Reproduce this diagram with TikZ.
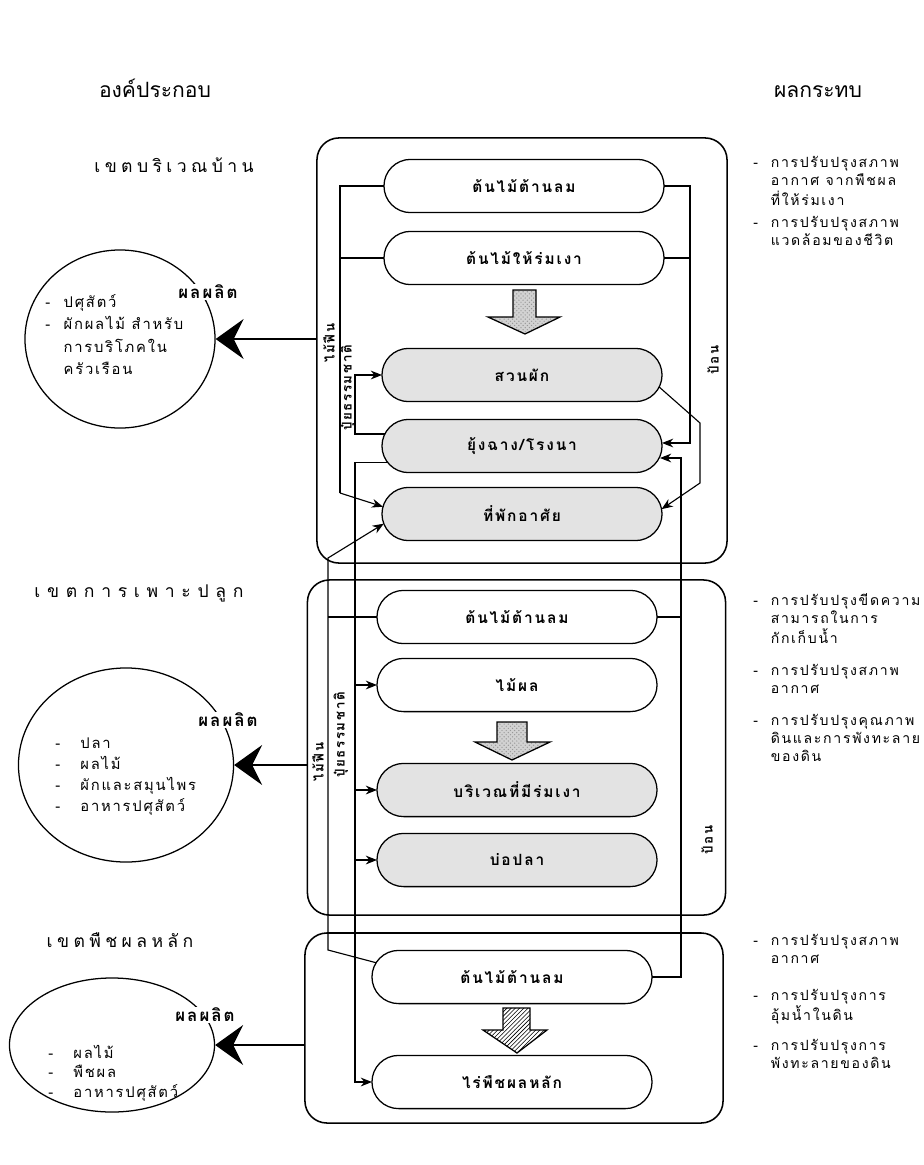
\documentclass[tikz,border=0pt]{standalone}
\usepackage{fontspec}
\newfontfamily\thai[Script=Thai]{Loma}
\newfontfamily\thaisp[Script=Thai,LetterSpace=12]{Loma}
\newfontfamily\thaihd[Script=Thai,LetterSpace=25]{Loma}
\newfontfamily\thaihdw[Script=Thai,LetterSpace=38]{Loma}
\usetikzlibrary{shapes.misc,shapes.geometric,arrows.meta,patterns,calc}
\begin{document}
\begin{tikzpicture}[x=0.025cm,y=-0.025cm,
  zone/.style={draw,line width=1.1pt,rounded corners=0.55cm,inner sep=0pt,outer sep=0pt},
  pill/.style={draw,line width=0.9pt,rounded rectangle,minimum width=7cm,minimum height=1.33cm,
    inner sep=0pt,outer sep=0pt,font=\thaisp\bfseries\fontsize{11}{13}\selectfont},
  shaded/.style={fill=gray!22},
  link/.style={line width=0.8pt},
  arr/.style={link,-{Stealth[length=2.8mm,width=2.2mm]}},
  bigarr/.style={line width=1pt,-{Stealth[length=7mm,width=10mm,inset=2.5mm]}},
  flow/.style={draw,line width=0.9pt,preaction={fill=gray!35},pattern=crosshatch dots,pattern color=gray!80},
  hatchflow/.style={draw,line width=0.9pt,pattern=north east lines},
  prod/.style={ellipse,draw,line width=0.9pt,inner sep=0pt},
  plabel/.style={fill=white,inner sep=1pt,font=\thaisp\bfseries\fontsize{12}{14}\selectfont},
  ctext/.style={anchor=base west,inner sep=0pt,align=left,font=\thaisp\fontsize{10.5}{16}\selectfont},
  side/.style={anchor=base west,inner sep=0pt,font=\thaisp\fontsize{10}{13}\selectfont},
  headbig/.style={font=\thai\fontsize{15}{18}\selectfont},
  head/.style={font=\thaihd\fontsize{12.5}{15}\selectfont},
  vlab/.style={rotate=90,inner sep=0pt,font=\thaisp\bfseries\fontsize{9.5}{11}\selectfont}]
\path[use as bounding box,fill=white] (0,0) rectangle (924,1165);

% headings
\node[headbig] (hc) at (155,88) {องค์ประกอบ};
\node[headbig] (hi) at (818,92) {ผลกระทบ};
\node[head] (h1) at (174,165) {เขตบริเวณบ้าน};
\node[head,font=\thaihdw\fontsize{12.5}{15}\selectfont] (h2) at (139,593) {เขตการเพาะปลูก};
\node[head] (h3) at (120,940) {เขตพืชผลหลัก};

% zone boxes
\node[zone,minimum width=10.25cm,minimum height=10.625cm] (z1) at (522,350.5) {};
\node[zone,minimum width=10.45cm,minimum height=8.375cm] (z2) at (516.5,747.5) {};
\node[zone,minimum width=10.45cm,minimum height=4.75cm] (z3) at (514,1028) {};

% pills
\node[pill] (wb1) at (524,186) {ต้นไม้ต้านลม};
\node[pill] (sh1) at (524,258) {ต้นไม้ให้ร่มเงา};
\node[pill,shaded] (veg1) at (522,375) {สวนผัก};
\node[pill,shaded] (barn1) at (522,446) {ยุ้งฉาง/โรงนา};
\node[pill,shaded] (home1) at (522,514) {ที่พักอาศัย};
\node[pill] (wb2) at (517,617) {ต้นไม้ต้านลม};
\node[pill] (fr2) at (517,685) {ไม้ผล};
\node[pill,shaded] (sd2) at (517,790) {บริเวณที่มีร่มเงา};
\node[pill,shaded] (pond2) at (517,860) {บ่อปลา};
\node[pill] (wb3) at (512,977) {ต้นไม้ต้านลม};
\node[pill] (crop3) at (512,1082) {ไร่พืชผลหลัก};

% big flow arrows
\path[flow] (513,290) -- (536,290) -- (536,317) -- (560,317) -- (525,334) -- (488,317) -- (513,317) -- cycle;
\path[flow] (497,722) -- (527,722) -- (527,742) -- (550,742) -- (512,760) -- (475,742) -- (497,742) -- cycle;
\path[hatchflow] (503,1008) -- (530,1008) -- (530,1030) -- (547,1030) -- (517,1053) -- (483,1030) -- (503,1030) -- cycle;

% firewood (upper)
\coordinate (fa) at (340,186);
\coordinate (fb) at (340,493);
\draw[link] (wb1.west) -- (fa) -- (fb);
\draw[link] (sh1.west) -- (sh1.west -| fa);
\draw[arr] (fb) -- (home1.177);
% firewood (lower)
\coordinate (g1) at (328,950);
\coordinate (g2) at (328,558);
\draw[arr] (wb3.174) -- (g1) -- (g2) -- (home1.184);
\draw[link] (wb2.west) -- (wb2.west -| g1);

% natural fertiliser
\coordinate (px) at (355,0);
\draw[arr] (barn1.175) -- (barn1.175 -| px) |- (veg1.west);
\draw[arr] (barn1.187) -- (barn1.187 -| px) |- (crop3.west);
\draw[arr] (px |- fr2.west) -- (fr2.west);
\draw[arr] (px |- sd2.west) -- (sd2.west);
\draw[arr] (px |- pond2.west) -- (pond2.west);

% feed
\coordinate (q) at (690,0);
\draw[arr] (wb1.east) -- (wb1.east -| q) |- ($(barn1.east)+(0,-3)$);
\draw[link] (sh1.east) -- (sh1.east -| q);
\coordinate (r) at (681,0);
\draw[arr] (wb3.east) -- (wb3.east -| r) |- ($(barn1.east)+(-2,12)$);
\draw[link] (wb2.east) -- (wb2.east -| r);
% garden to dwelling
\coordinate (v1) at (700,423);
\coordinate (v2) at (700,483);
\draw[arr] (veg1.355) -- (v1) -- (v2) -- (home1.2);

% vertical labels
\node[vlab] (lf1) at (329,343) {ไม้ฟืน};
\node[vlab] (pf1) at (348,388) {ปุ๋ยธรรมชาติ};
\node[vlab] (fd1) at (713,360) {ป้อน};
\node[vlab] (lf2) at (318,762) {ไม้ฟืน};
\node[vlab] (pf2) at (341,735) {ปุ๋ยธรรมชาติ};
\node[vlab] (fd2) at (707,840) {ป้อน};

% product circles
\node[prod,minimum width=4.75cm,minimum height=4.45cm] (c1) at (120,339) {};
\node[prod,minimum width=5.375cm,minimum height=4.85cm] (c2) at (126,765) {};
\node[prod,minimum width=5.125cm,minimum height=3.35cm] (c3) at (112,1045) {};
\draw[bigarr] (c1.east -| z1.west) -- (c1.east);
\draw[bigarr] (c2.east -| z2.west) -- (c2.east);
\draw[bigarr] (c3.east -| z3.west) -- (c3.east);
\node[plabel] (pl1) at (208,292) {ผลผลิต};
\node[plabel] (pl2) at (228,720) {ผลผลิต};
\node[plabel] (pl3) at (205,1015) {ผลผลิต};

\node[ctext] (t1) at (45,307) {\begin{tabular}[t]{@{}l@{\ \ }l@{}}-&ปศุสัตว์\\-&ผักผลไม้ สำหรับ\\&การบริโภคใน\\&ครัวเรือน\end{tabular}};
\node[ctext,font=\thaisp\fontsize{10.5}{15}\selectfont] (t2) at (55,748) {\begin{tabular}[t]{@{}l@{\ \ \ }l@{}}-&ปลา\\-&ผลไม้\\-&ผักและสมุนไพร\\-&อาหารปศุสัตว์\end{tabular}};
\node[ctext,font=\thaisp\fontsize{10.5}{14}\selectfont] (t3) at (48,1058) {\begin{tabular}[t]{@{}l@{\ \ \ }l@{}}-&ผลไม้\\-&พืชผล\\-&อาหารปศุสัตว์\end{tabular}};

% impacts
\node[side] (r11) at (753,167) {\begin{tabular}[t]{@{}l@{\ \ }l@{}}-&การปรับปรุงสภาพ\\&อากาศ จากพืชผล\\&ที่ให้ร่มเงา\end{tabular}};
\node[side] (r12) at (753,227) {\begin{tabular}[t]{@{}l@{\ \ }l@{}}-&การปรับปรุงสภาพ\\&แวดล้อมของชีวิต\end{tabular}};
\node[side] (r21) at (753,605) {\begin{tabular}[t]{@{}l@{\ \ }l@{}}-&การปรับปรุงขีดความ\\&สามารถในการ\\&กักเก็บน้ำ\end{tabular}};
\node[side] (r22) at (753,675) {\begin{tabular}[t]{@{}l@{\ \ }l@{}}-&การปรับปรุงสภาพ\\&อากาศ\end{tabular}};
\node[side] (r23) at (753,725) {\begin{tabular}[t]{@{}l@{\ \ }l@{}}-&การปรับปรุงคุณภาพ\\&ดินและการพังทะลาย\\&ของดิน\end{tabular}};
\node[side] (r31) at (753,945) {\begin{tabular}[t]{@{}l@{\ \ }l@{}}-&การปรับปรุงสภาพ\\&อากาศ\end{tabular}};
\node[side] (r32) at (753,1000) {\begin{tabular}[t]{@{}l@{\ \ }l@{}}-&การปรับปรุงการ\\&อุ้มน้ำในดิน\end{tabular}};
\node[side] (r33) at (753,1050) {\begin{tabular}[t]{@{}l@{\ \ }l@{}}-&การปรับปรุงการ\\&พังทะลายของดิน\end{tabular}};
\end{tikzpicture}
\end{document}
